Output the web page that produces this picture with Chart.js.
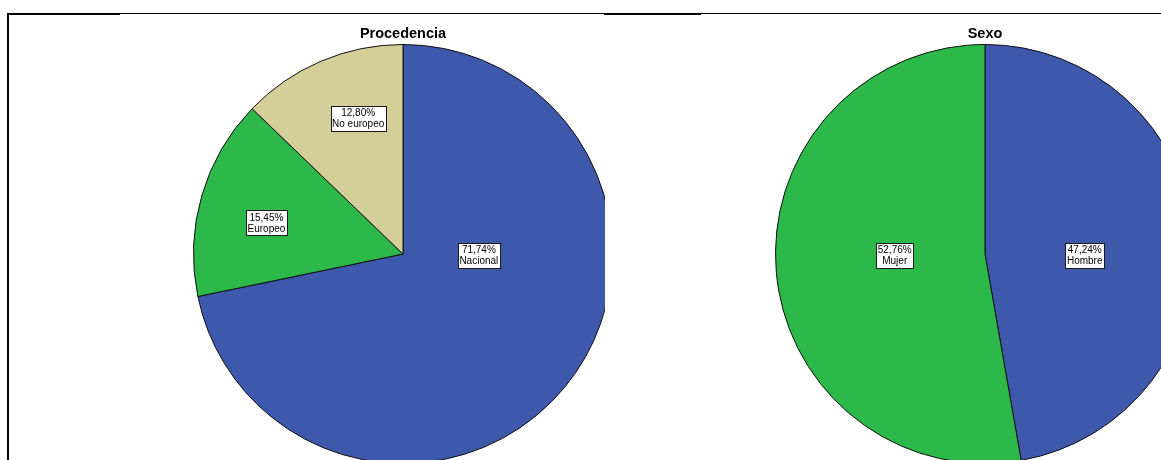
<!DOCTYPE html>
<html>
<head>
<meta charset="utf-8">
<script src="https://cdn.jsdelivr.net/npm/chart.js@4.4.0/dist/chart.umd.min.js"></script>
<style>
	body { margin: 0; background: #fff; width: 1161px; height: 460px; overflow: hidden; position: relative; font-family: "Liberation Sans", Arial, sans-serif; }
	.line { position: absolute; background: #000; }
	.box { position: absolute; overflow: hidden; top: 15px; height: 445px; }
	.box canvas { position: absolute; }
	.title { position: absolute; z-index: 2; top: 10px; width: 200px; line-height: 17px; text-align: center; font-weight: bold; font-size: 14.5px; color: #000; }
</style>
</head>
<body>
<div class="line" style="left:8px;top:13px;width:1153px;height:1px"></div>
<div class="line" style="left:8px;top:13px;width:112px;height:2px"></div>
<div class="line" style="left:604px;top:13px;width:97px;height:2px"></div>
<div class="line" style="left:7px;top:13px;width:2px;height:447px"></div>

<div class="box" style="left:9px;width:596px">
	<div class="title" style="left:294px">Procedencia</div>
	<canvas id="chart1"></canvas>
</div>
<div class="box" style="left:605px;width:556px">
	<div class="title" style="left:280px">Sexo</div>
	<canvas id="chart2"></canvas>
</div>

<script>
// Procedencia
var procLabels = ['Nacional', 'Europeo', 'No europeo'];
var procValues = [71.74, 15.45, 12.80];
// Sexo
var sexoLabels = ['Hombre', 'Mujer'];
var sexoValues = [47.24, 52.76];

var blue = '#3e58ac';
var green = '#2db84a';
var tan = '#d4cf99';

// where SPSS put the value boxes, as fraction of radius from centre
var procLabelAt = [[0.362, 0.005], [-0.652, -0.148], [-0.214, -0.648]];
var sexoLabelAt = [[0.476, 0.005], [-0.431, 0.005]];

var boxLabels = {
	id: 'boxLabels',
	afterDatasetsDraw: function (chart, args, opts) {
		var ctx = chart.ctx;
		var meta = chart.getDatasetMeta(0);
		var arc = meta.data[0];
		var cx = arc.x, cy = arc.y, r = arc.outerRadius;
		var vals = chart.data.datasets[0].data;
		ctx.save();
		ctx.font = '10px "Liberation Sans", Arial, sans-serif';
		ctx.textAlign = 'center';
		ctx.textBaseline = 'middle';
		chart.data.labels.forEach(function (lab, i) {
			var pct = vals[i].toFixed(2).replace('.', ',') + '%';
			var x = cx + opts.at[i][0] * r;
			var y = cy + opts.at[i][1] * r;
			var w = Math.max(ctx.measureText(pct).width, ctx.measureText(lab).width) + 3;
			var h = 25;
			ctx.fillStyle = '#fff';
			ctx.fillRect(Math.round(x - w / 2) + 0.5, Math.round(y - h / 2) + 0.5, Math.round(w), h);
			ctx.strokeStyle = '#1a1a1a';
			ctx.lineWidth = 1;
			ctx.strokeRect(Math.round(x - w / 2) + 0.5, Math.round(y - h / 2) + 0.5, Math.round(w), h);
			ctx.fillStyle = '#000';
			ctx.fillText(pct, x, y - 5);
			ctx.fillText(lab, x, y + 6);
		});
		ctx.restore();
	}
};

function makePie(id, left, top, labels, values, colors, at) {
	var el = document.getElementById(id);
	el.style.left = left + 'px';
	el.style.top = top + 'px';
	el.width = 500;
	el.height = 460;
	return new Chart(el.getContext('2d'), {
		type: 'pie',
		data: {
			labels: labels,
			datasets: [{
				data: values,
				backgroundColor: colors,
				borderColor: '#111',
				borderWidth: 1
			}]
		},
		options: {
			responsive: false,
			animation: false,
			layout: { padding: { left: 40, right: 40, top: 20, bottom: 20 } },
			plugins: {
				legend: { display: false },
				tooltip: { enabled: false },
				boxLabels: { at: at }
			}
		},
		plugins: [boxLabels]
	});
}

// centres: (403,254) and (985,254) on the page
makePie('chart1', 403 - 9 - 250, 254 - 15 - 230, procLabels, procValues, [blue, green, tan], procLabelAt);
makePie('chart2', 985 - 605 - 250, 254 - 15 - 230, sexoLabels, sexoValues, [blue, green], sexoLabelAt);
</script>
</body>
</html>
